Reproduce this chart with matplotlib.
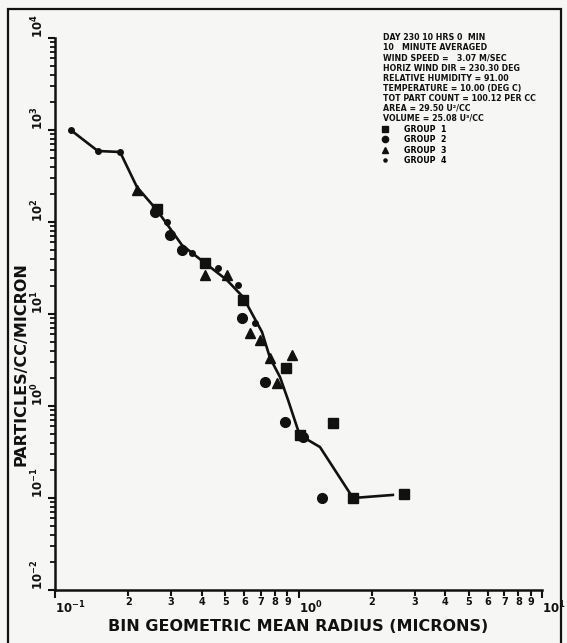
import numpy as np
import matplotlib.pyplot as plt
from matplotlib.patches import Rectangle
from matplotlib.lines import Line2D

# averaged size distribution (solid line)
line_r = [0.116, 0.150, 0.185, 0.217, 0.262, 0.332, 0.413, 0.508, 0.592, 0.633,
          0.708, 0.764, 0.839, 0.906, 0.995, 1.043, 1.225, 1.674, 2.44]
line_n = [1000, 591, 577, 240, 135, 56.2, 35.8, 23.4, 15.3, 11.0,
          6.37, 3.32, 2.07, 1.16, 0.548, 0.460, 0.358, 0.100, 0.108]

# individual groups
g1_r = [0.262, 0.413, 0.592, 0.889, 1.01, 1.386, 1.674, 2.71]
g1_n = [138, 35.8, 14.2, 2.59, 0.484, 0.653, 0.100, 0.110]
g2_r = [0.258, 0.296, 0.332, 0.585, 0.728, 0.880, 1.043, 1.249]
g2_n = [128, 72.3, 49.6, 9.05, 1.82, 0.670, 0.460, 0.100]
g3_r = [0.217, 0.413, 0.508, 0.633, 0.695, 0.764, 0.816, 0.940]
g3_n = [223, 26.5, 26.5, 6.21, 5.21, 3.32, 1.78, 3.58]
g4_r = [0.116, 0.150, 0.185, 0.288, 0.365, 0.467, 0.564, 0.662]
g4_n = [1000, 591, 577, 100, 46.0, 31.6, 20.7, 7.98]

group_labels = ["GROUP  1", "GROUP  2", "GROUP  3", "GROUP  4"]

info_lines = [
    "DAY 230 10 HRS 0  MIN",
    "10   MINUTE AVERAGED",
    "WIND SPEED =   3.07 M/SEC",
    "HORIZ WIND DIR = 230.30 DEG",
    "RELATIVE HUMIDITY = 91.00",
    "TEMPERATURE = 10.00 (DEG C)",
    "TOT PART COUNT = 100.12 PER CC",
    "AREA = 29.50 U\u00b2/CC",
    "VOLUME = 25.08 U\u00b3/CC",
]

bg = "#f6f6f4"
ink = "#111111"
plt.rcParams["font.family"] = ["DejaVu Sans"]
plt.rcParams["font.weight"] = "bold"
plt.rcParams["mathtext.default"] = "bf"

fig = plt.figure(figsize=(5.67, 6.43), dpi=100, facecolor=bg)
ax = fig.add_axes([0.097, 0.0824, 0.859, 0.8585], facecolor=bg)

# outer frame of the page
fig.patches.append(Rectangle((0.014, -0.01), 0.976, 0.996, transform=fig.transFigure,
                             fill=False, edgecolor=ink, lw=1.6))

ax.plot(line_r, line_n, color=ink, lw=1.9)
ax.plot(g1_r, g1_n, "s", color=ink, ms=6.8)
ax.plot(g2_r, g2_n, "o", color=ink, ms=7)
ax.plot(g3_r, g3_n, "^", color=ink, ms=6.5)
ax.plot(g4_r, g4_n, ".", color=ink, ms=8)

ax.set_xscale("log")
ax.set_yscale("log")
ax.set_xlim(0.1, 10)
ax.set_ylim(1e-2, 1e4)

for s in ["top", "right"]:
    ax.spines[s].set_visible(False)
for s in ["left", "bottom"]:
    ax.spines[s].set_linewidth(1.8)
    ax.spines[s].set_color(ink)

# x ticks: decades plus digit labels on the minor ticks
ax.set_xticks([0.1, 1, 10], ["10$^{-1}$", "10$^{0}$", "10$^{1}$"])
minor_x = [m * d for d in (0.1, 1) for m in range(2, 10)]
ax.set_xticks(minor_x, [str(m) for d in (0.1, 1) for m in range(2, 10)], minor=True)
ax.tick_params(axis="x", which="major", direction="out", length=6, width=1.5,
               labelsize=8.5, pad=1, colors=ink)
ax.tick_params(axis="x", which="minor", direction="out", length=4, width=1.5,
               labelsize=7, pad=1, colors=ink)
for t in ax.get_xticklabels():
    t.set_ha("left")

# y ticks: decades with rotated labels, unlabelled minor ticks
yt = [10.0 ** k for k in range(-2, 5)]
ax.set_yticks(yt, ["10$^{%d}$" % k for k in range(-2, 5)])
ax.set_yticks([m * 10.0 ** k for k in range(-2, 4) for m in range(2, 10)], minor=True)
ax.tick_params(axis="y", which="major", direction="out", length=5, width=1.5,
               labelsize=8.5, pad=1, colors=ink, labelrotation=90)
ax.tick_params(axis="y", which="minor", direction="out", length=3.5, width=1.3,
               labelleft=False, colors=ink)
for t in ax.get_yticklabels():
    t.set_va("bottom")

ax.set_xlabel("BIN GEOMETRIC MEAN RADIUS (MICRONS)", fontsize=11.5, fontweight="bold",
              color=ink, labelpad=2)
ax.set_ylabel("PARTICLES/CC/MICRON", fontsize=11.5, fontweight="bold", color=ink)
ax.yaxis.set_label_coords(-0.055, 0.41)

# information block
fig.text(0.675, 0.948, "\n".join(info_lines), fontsize=5.7, fontweight="bold",
         color=ink, va="top", ha="left", linespacing=1.15)

handles = [Line2D([], [], ls="none", marker=mk, color=ink, ms=4.5)
           for mk in ["s", "o", "^", "."]]
ax.legend(handles, group_labels, loc="upper left", bbox_to_anchor=(0.671, 0.843),
          frameon=False, fontsize=5.7, handlelength=0.8, handletextpad=2.0,
          labelspacing=0.18, borderaxespad=0, borderpad=0)

fig.savefig("out.png", dpi=100, facecolor=bg)
